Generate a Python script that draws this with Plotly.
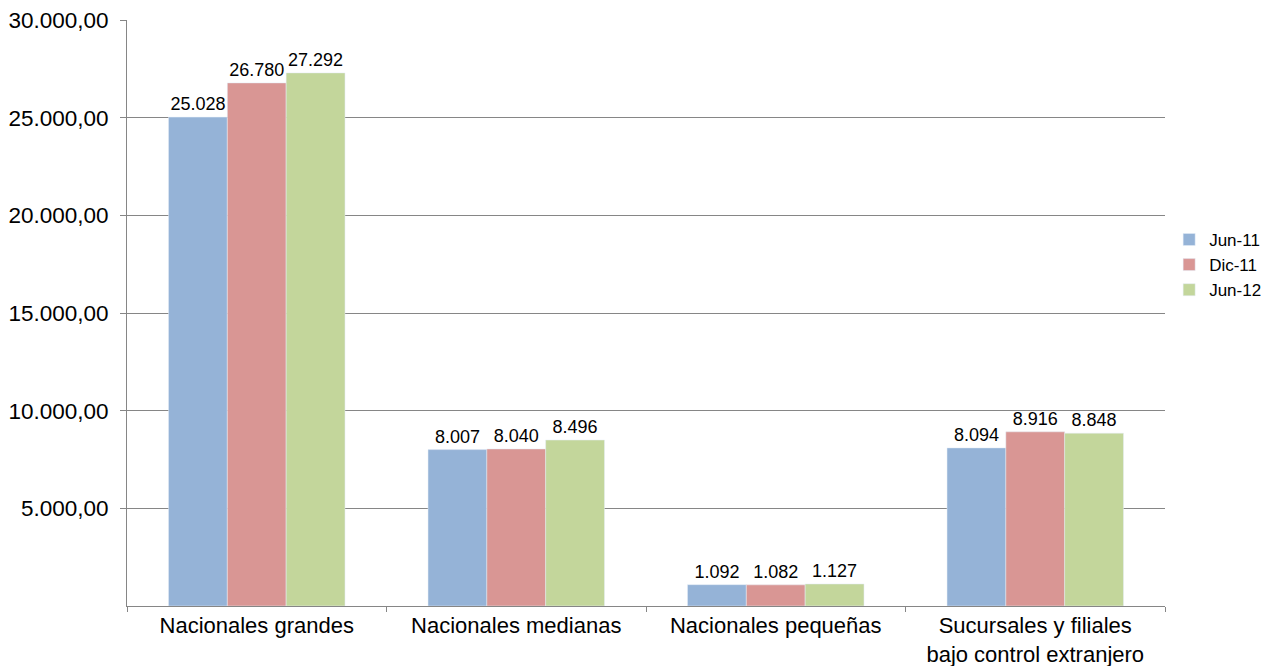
import plotly.graph_objects as go

categories = ["Nacionales grandes", "Nacionales medianas", "Nacionales pequeñas",
              "Sucursales y filiales<br>bajo control extranjero"]
series_names = ["Jun-11", "Dic-11", "Jun-12"]
jun11 = [25028, 8007, 1092, 8094]
dic11 = [26780, 8040, 1082, 8916]
jun12 = [27292, 8496, 1127, 8848]
colors = ["#95B3D7", "#D99694", "#C3D69B"]
y_ticks = [5000, 10000, 15000, 20000, 25000, 30000]

FONT = "Arial, Liberation Sans"

fig = go.Figure()
for name, vals, col in zip(series_names, [jun11, dic11, jun12], colors):
    fig.add_trace(go.Bar(
        x=categories, y=vals, name=name, marker_color=col,
        texttemplate="%{y:,.0f}", textposition="outside",
        textfont=dict(size=18, color="#000000", family=FONT),
        cliponaxis=False,
    ))

# the page has an 8px body margin, so the figure is 8px smaller than the window
fig.update_layout(
    width=1261, height=658,
    margin=dict(l=119, r=104, t=12, b=60, autoexpand=False),
    paper_bgcolor="white", plot_bgcolor="white",
    separators=",.",
    barmode="group", bargap=0.32, bargroupgap=0,
    font=dict(family=FONT, color="#000000"),
    legend=dict(x=1.004, y=0.582, xanchor="left", yanchor="middle",
                font=dict(size=17), tracegroupgap=0, itemwidth=30),
    showlegend=True,
)
fig.update_yaxes(
    range=[0, 30000], tickvals=y_ticks, tickformat=",.2f", automargin=False,
    tickfont=dict(size=22.5), showgrid=True, gridcolor="#868686", gridwidth=1,
    showline=True, linecolor="#868686", linewidth=1,
    ticks="outside", ticklen=6, tickcolor="#868686", zeroline=False,
    ticklabelstandoff=7, ticklabeloverflow="allow",
)
fig.update_xaxes(
    tickfont=dict(size=22), showline=True, linecolor="#868686", linewidth=1,
    automargin=False, ticklabeloverflow="allow",
    ticks="outside", tickson="boundaries", ticklen=5, tickcolor="#868686",
)

fig.write_html("out.html")
